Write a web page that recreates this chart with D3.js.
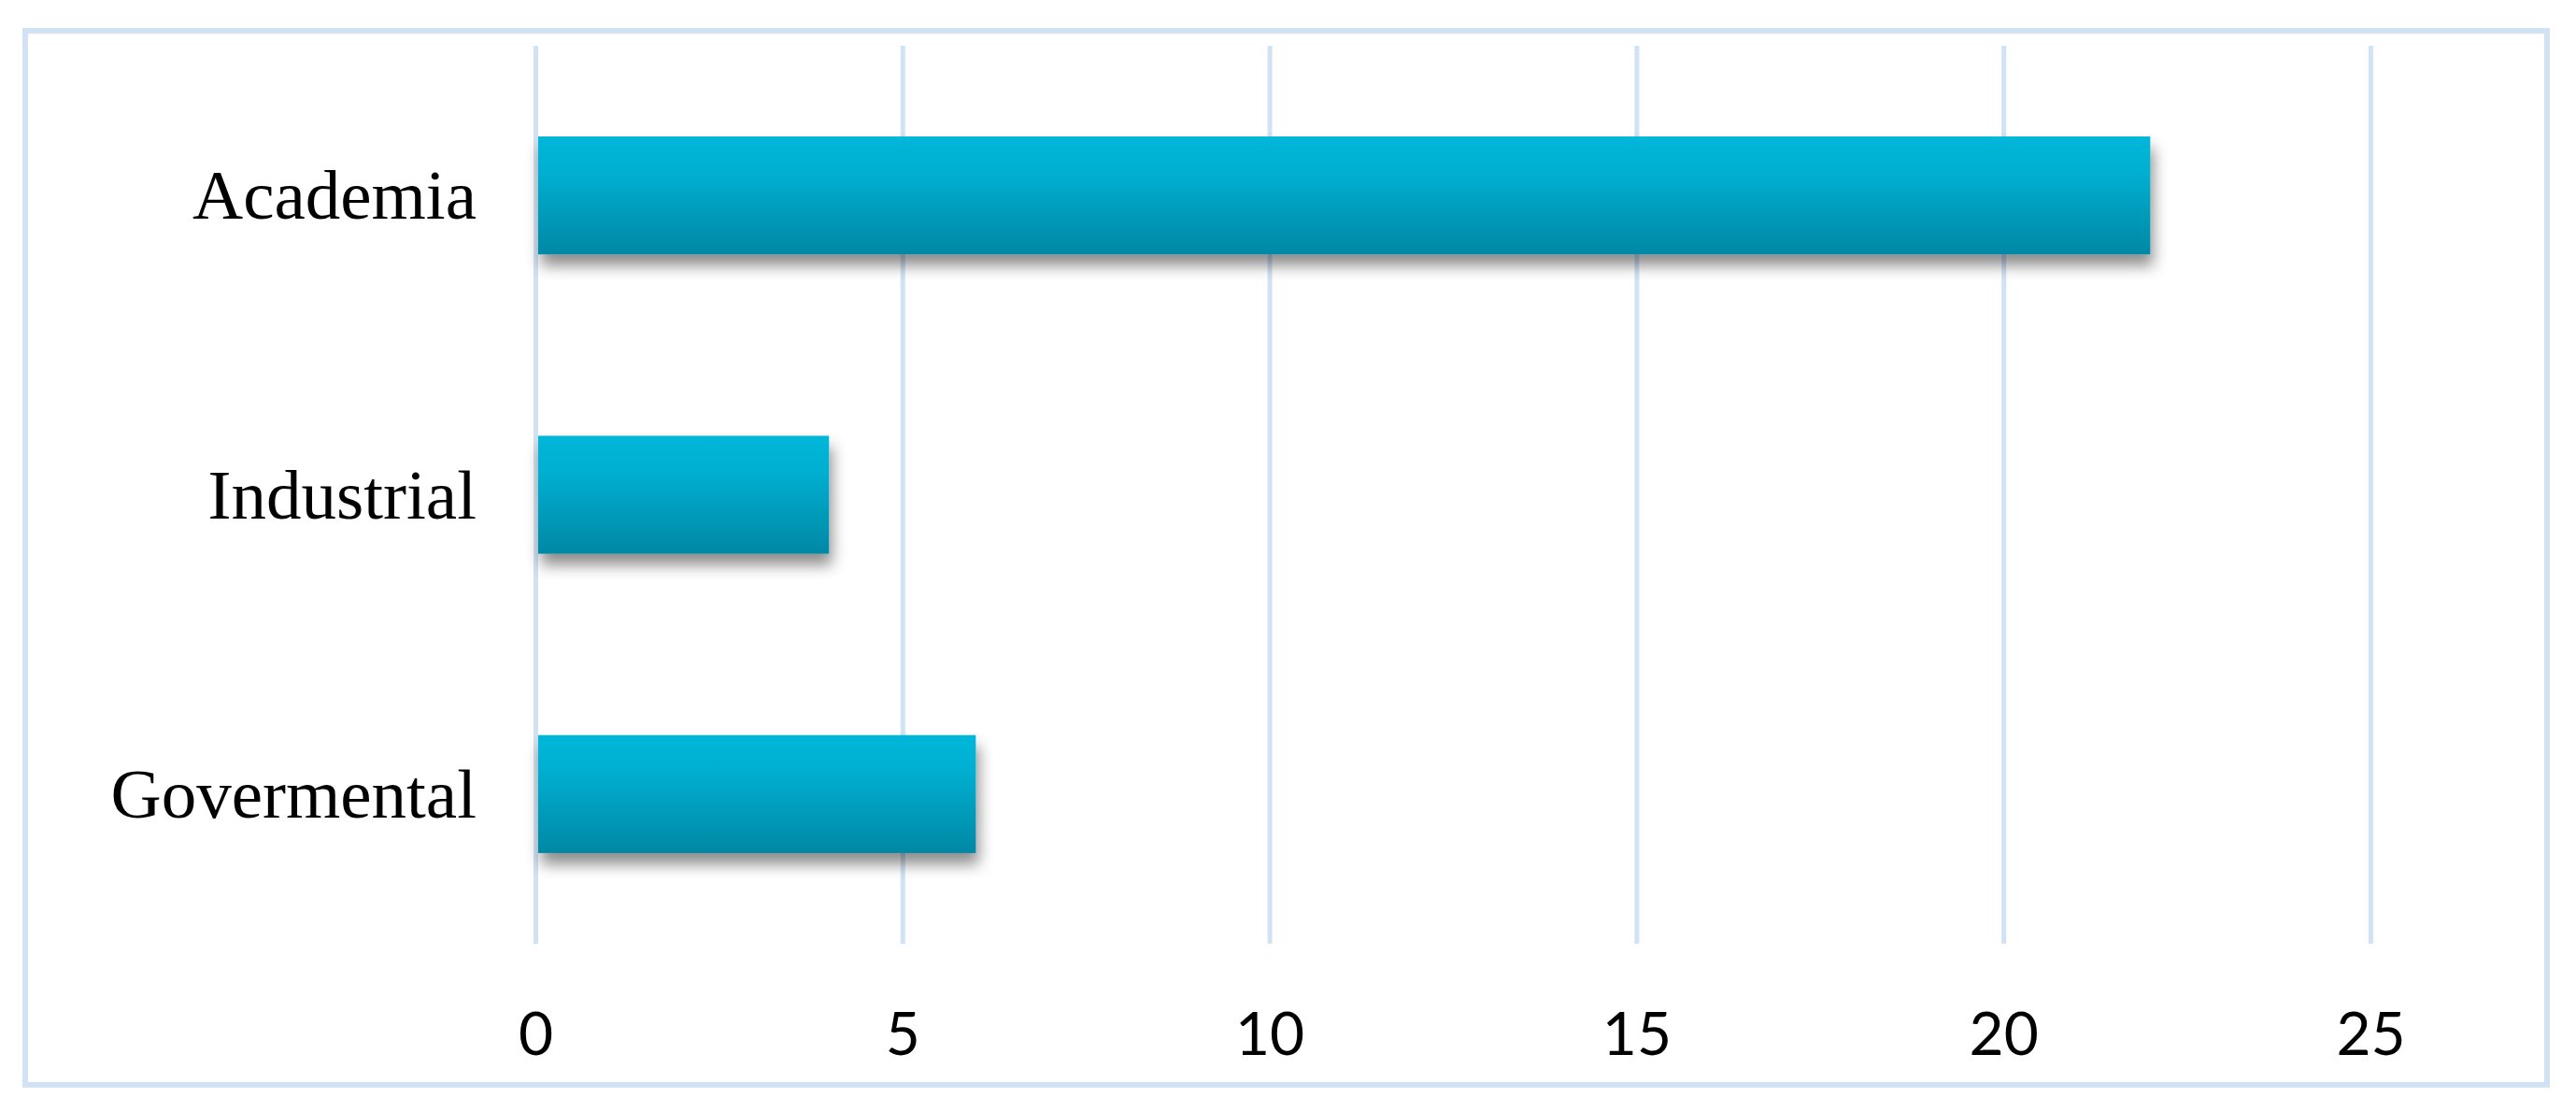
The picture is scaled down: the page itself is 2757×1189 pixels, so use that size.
<!DOCTYPE html>
<html>
<head>
<meta charset="utf-8">
<script src="https://cdn.jsdelivr.net/npm/d3@7/dist/d3.min.js"></script>
<style>
  html, body { margin: 0; padding: 0; background: #ffffff; }
  svg { display: block; }
</style>
</head>
<body>
<svg id="chart" width="2757" height="1189"></svg>
<script>
const categories = ["Academia", "Industrial", "Govermental"];
const values = [22, 4, 6];
const tickValues = [0, 5, 10, 15, 20, 25];

const W = 2757, H = 1189;
const svg = d3.select("#chart");

const margin = { left: 573, right: W - 2537, top: 49, bottom: H - 1010 };

const x = d3.scaleLinear().domain([0, 25]).range([margin.left, W - margin.right]);
const y = d3.scaleBand().domain(categories).range([margin.top, H - margin.bottom])
  .paddingInner(0.606).paddingOuter(0.303);

const defs = svg.append("defs");
const grad = defs.append("linearGradient").attr("id", "barGrad")
  .attr("x1", 0).attr("y1", 0).attr("x2", 0).attr("y2", 1);
grad.append("stop").attr("offset", "0%").attr("stop-color", "#00b7d9");
grad.append("stop").attr("offset", "30%").attr("stop-color", "#00afd1");
grad.append("stop").attr("offset", "100%").attr("stop-color", "#0088a5");

const filt = defs.append("filter").attr("id", "shadow")
  .attr("x", "-5%").attr("y", "-20%").attr("width", "115%").attr("height", "170%");
filt.append("feDropShadow").attr("dx", 3).attr("dy", 12).attr("stdDeviation", 8)
  .attr("flood-color", "#000").attr("flood-opacity", 0.45);

// outer frame
svg.append("rect")
  .attr("x", 27).attr("y", 33).attr("width", 2699).attr("height", 1128)
  .attr("fill", "#fff").attr("stroke", "#d0e2f3").attr("stroke-width", 6);

// gridlines
const xAxisGrid = d3.axisBottom(x).tickValues(tickValues)
  .tickSize(-(y.range()[1] - y.range()[0])).tickFormat("");
const gg = svg.append("g").attr("transform", `translate(0,${y.range()[1]})`).call(xAxisGrid);
gg.select(".domain").remove();
gg.selectAll("line").attr("stroke", "#d0e2f3").attr("stroke-width", 5);

// bars
svg.append("g").selectAll("rect").data(categories).join("rect")
  .attr("x", x(0) + 3)
  .attr("y", d => y(d))
  .attr("width", (d, i) => x(values[i]) - x(0) - 3)
  .attr("height", y.bandwidth())
  .attr("fill", "url(#barGrad)")
  .attr("filter", "url(#shadow)");

// x tick labels
const xAxis = d3.axisBottom(x).tickValues(tickValues).tickSize(0).tickPadding(0).tickFormat(d3.format("d"));
const xa = svg.append("g").attr("transform", `translate(0,1129)`).call(xAxis);
xa.select(".domain").remove();
xa.selectAll("text")
  .attr("dy", 0)
  .attr("font-family", "Lato, 'Open Sans', sans-serif")
  .attr("font-size", 64)
  .attr("fill", "#000");

// y category labels
const yAxis = d3.axisLeft(y).tickSize(0).tickPadding(0);
const ya = svg.append("g").attr("transform", `translate(510,0)`).call(yAxis);
ya.select(".domain").remove();
ya.selectAll("text")
  .attr("dy", 25)
  .attr("x", 0)
  .attr("font-family", "'Liberation Serif', 'Times New Roman', serif")
  .attr("font-size", 75)
  .attr("fill", "#000");
</script>
</body>
</html>
